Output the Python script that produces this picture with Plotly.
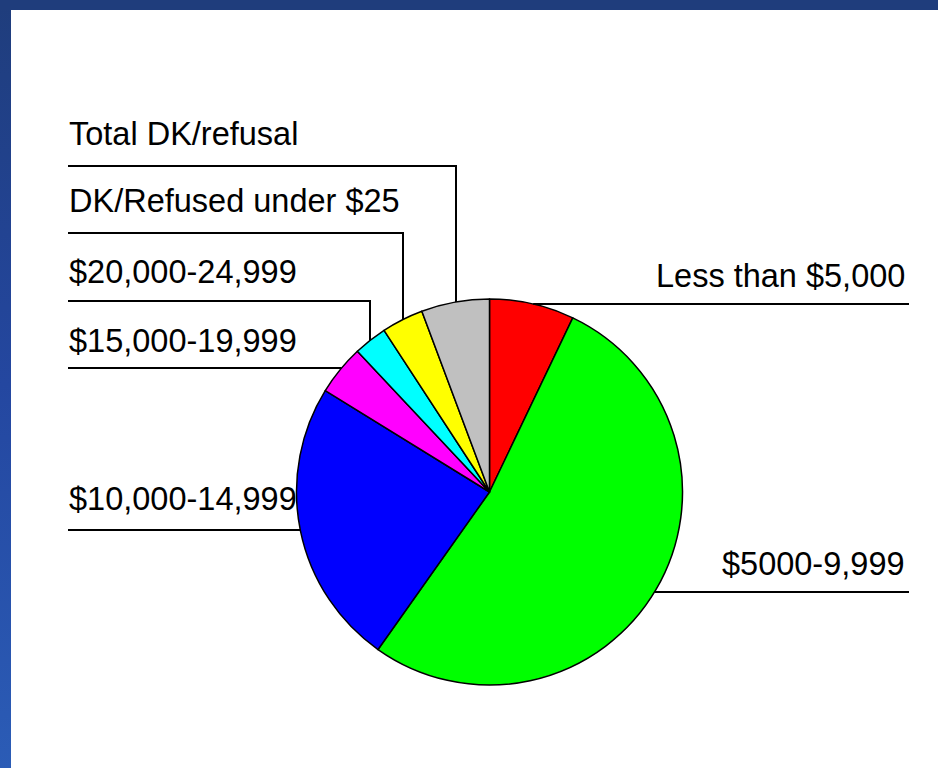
import base64
import math
import plotly.graph_objects as go

# ---- data -------------------------------------------------------------
labels = [
    "Less than $5,000",
    "$5000-9,999",
    "$10,000-14,999",
    "$15,000-19,999",
    "$20,000-24,999",
    "DK/Refused under $25",
    "Total DK/refusal",
]
values = [7.1, 52.7, 24.0, 4.2, 2.8, 3.5, 5.7]
colors = ["#ff0000", "#00ff00", "#0000ff", "#ff00ff", "#00ffff", "#ffff00", "#c0c0c0"]

# ---- page geometry (pixels) -------------------------------------------
W, H = 938, 768
CX, CY, R = 489.5, 492.0, 193.0
FONT_SIZE = 32.5
FONT = "Liberation Sans, Arial, sans-serif"

# label placement: side, text baseline, leader y, elbow x (None = straight to pie)
label_style = {
    "Less than $5,000": ("right", 287, 304, None),
    "$5000-9,999": ("right", 575, 592, None),
    "$10,000-14,999": ("left", 510, 530, None),
    "$15,000-19,999": ("left", 352, 368, None),
    "$20,000-24,999": ("left", 283, 301, 370),
    "DK/Refused under $25": ("left", 212, 233, 403),
    "Total DK/refusal": ("left", 145, 166, 456),
}
LEFT_X, RIGHT_TEXT_X, RIGHT_LINE_X = 67, 907, 909
TOP_BAND, LEFT_BAND = 10, 11


def px(x):
    return x / W


def py(y):
    return 1 - y / H


fig = go.Figure()

fig.add_trace(
    go.Pie(
        labels=labels,
        values=values,
        sort=False,
        direction="clockwise",
        rotation=0,
        textinfo="none",
        hoverinfo="label+percent",
        marker=dict(colors=colors, line=dict(color="#000000", width=1.5)),
        domain=dict(
            x=[px(CX - R), px(CX + R)],
            y=[py(CY + R), py(CY - R)],
        ),
        showlegend=False,
    )
)

# slide frame: solid band along the top, graded band down the left side
frame_svg = (
    '<svg xmlns="http://www.w3.org/2000/svg" width="%d" height="%d" viewBox="0 0 %d %d" '
    'preserveAspectRatio="none">'
    '<defs><linearGradient id="g" x1="0" y1="0" x2="0" y2="1">'
    '<stop offset="0" stop-color="#1f3d7c"/>'
    '<stop offset="0.5" stop-color="#2447a0"/>'
    '<stop offset="1" stop-color="#2b5cb6"/>'
    '</linearGradient></defs>'
    '<rect x="0" y="0" width="%d" height="%d" fill="url(#g)"/>'
    '<rect x="0" y="0" width="%d" height="%d" fill="#1f3d7c"/>'
    '</svg>'
) % (W, H, W, H, LEFT_BAND, H, W, TOP_BAND)
frame_uri = "data:image/svg+xml;base64," + base64.b64encode(frame_svg.encode()).decode()

shapes = []
annotations = []
line_style = dict(color="#000000", width=2)

for name in labels:
    side, base, ly, elbow = label_style[name]
    if side == "right":
        x_edge = CX + math.sqrt(R * R - (ly - CY) ** 2)
        shapes.append(dict(type="line", xref="paper", yref="paper",
                           x0=px(x_edge), x1=px(RIGHT_LINE_X), y0=py(ly), y1=py(ly),
                           line=line_style))
        annotations.append(dict(text=name, xref="paper", yref="paper",
                                x=px(RIGHT_TEXT_X), y=py(base - 0.35 * FONT_SIZE),
                                xanchor="right", yanchor="middle", showarrow=False,
                                font=dict(family=FONT, size=FONT_SIZE, color="#000000")))
    else:
        if elbow is None:
            x_edge = CX - math.sqrt(R * R - (ly - CY) ** 2)
            shapes.append(dict(type="line", xref="paper", yref="paper",
                               x0=px(LEFT_X + 1), x1=px(x_edge), y0=py(ly), y1=py(ly),
                               line=line_style))
        else:
            y_edge = CY - math.sqrt(R * R - (elbow - CX) ** 2)
            shapes.append(dict(type="path", xref="paper", yref="paper",
                               path="M %f,%f L %f,%f L %f,%f" % (
                                   px(LEFT_X + 1), py(ly), px(elbow), py(ly), px(elbow), py(y_edge)),
                               line=line_style))
        annotations.append(dict(text=name, xref="paper", yref="paper",
                                x=px(LEFT_X), y=py(base - 0.35 * FONT_SIZE),
                                xanchor="left", yanchor="middle", showarrow=False,
                                font=dict(family=FONT, size=FONT_SIZE, color="#000000")))

# keep the right-hand margin of the slide clean white
shapes.append(dict(type="rect", xref="paper", yref="paper",
                   x0=px(918), x1=1, y0=0, y1=py(TOP_BAND),
                   fillcolor="#ffffff", line=dict(width=0), layer="above"))

fig.update_layout(
    width=W,
    height=H,
    margin=dict(l=0, r=0, t=0, b=0),
    paper_bgcolor="#ffffff",
    plot_bgcolor="#ffffff",
    shapes=shapes,
    annotations=annotations,
    images=[dict(source=frame_uri, xref="paper", yref="paper",
                 x=0, y=1, sizex=1, sizey=1, xanchor="left", yanchor="top",
                 sizing="stretch", layer="below")],
    showlegend=False,
)

fig.write_html("out.html", config=dict(displayModeBar=False))
